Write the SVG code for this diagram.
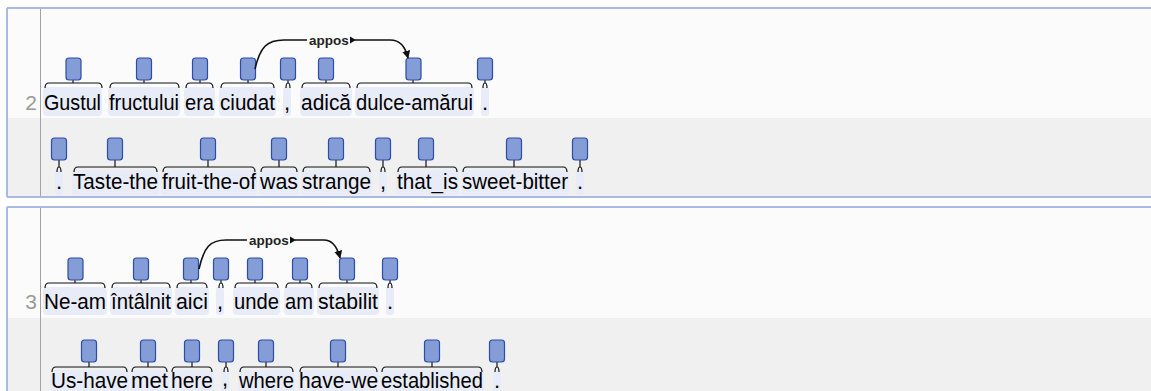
<svg xmlns="http://www.w3.org/2000/svg" width="1151" height="391" viewBox="0 0 1151 391">
<defs>
<style>
.wh{fill:#fbfbfb}
.band{fill:#eff0ef}
.bd{stroke:#a9b9e4;stroke-width:2;fill:none}
.vl{stroke:#a3a3a3;stroke-width:1}
.num{font-family:"Liberation Sans",Arial,sans-serif;font-size:21px;fill:#999;text-anchor:end}
.tb{fill:#e8ecf8}
.tx{font-family:"Liberation Sans",Arial,sans-serif;font-size:22px;fill:#000;text-anchor:middle}
.bx{fill:#849dd6;stroke:#2c4ca8;stroke-width:1.2}
.br{fill:none;stroke:#111;stroke-width:1.2}
.arc{fill:none;stroke:#111;stroke-width:1.6}
.lbl{font-family:"Liberation Sans",Arial,sans-serif;font-size:13.5px;font-weight:bold;fill:#222;text-anchor:middle}
</style>
<marker id="ah" viewBox="0 0 10 10" refX="9" refY="5" markerWidth="8" markerHeight="8" orient="auto" markerUnits="userSpaceOnUse">
<path d="M0,0 L10,5 L0,10 z" fill="#111"/>
</marker>
</defs>

<!-- frame -->
<g id="frame">
<rect class="wh" x="7" y="8" width="1144" height="110"/>
<rect class="band" x="7" y="118" width="1144" height="79"/>
<rect class="wh" x="7" y="207" width="1144" height="111"/>
<rect class="band" x="7" y="318" width="1144" height="73"/>
<line class="bd" x1="7" y1="8" x2="1151" y2="8"/>
<line class="bd" x1="7" y1="197" x2="1151" y2="197"/>
<line class="bd" x1="7" y1="207" x2="1151" y2="207"/>
<line class="bd" x1="7" y1="8" x2="7" y2="197"/>
<line class="bd" x1="7" y1="207" x2="7" y2="391"/>
<line class="vl" x1="40.5" y1="9" x2="40.5" y2="196"/>
<line class="vl" x1="40.5" y1="208" x2="40.5" y2="391"/>
<text class="num" x="37" y="110">2</text>
<text class="num" x="37" y="309">3</text>
</g>

<!-- sentence 2, row 1 -->
<g id="s2-Gustul"><rect class="tb" x="43" y="87" width="59" height="29" rx="4"/><path class="br" d="M45,88 Q45,83 49,83 L98,83 Q102,83 102,88 M73,80 L73,83"/><rect class="bx" x="66" y="58" width="15" height="22" rx="3"/><text class="tx" x="72.5" y="110" textLength="57" lengthAdjust="spacingAndGlyphs">Gustul</text></g>
<g id="s2-fructului"><rect class="tb" x="108" y="87" width="72" height="29" rx="4"/><path class="br" d="M110,88 Q110,83 114,83 L175,83 Q179,83 179,88 M144,80 L144,83"/><rect class="bx" x="136.5" y="58" width="15" height="22" rx="3"/><text class="tx" x="144" y="110" textLength="70" lengthAdjust="spacingAndGlyphs">fructului</text></g>
<g id="s2-era"><rect class="tb" x="184" y="87" width="31" height="29" rx="4"/><path class="br" d="M186,88 Q186,83 190,83 L209,83 Q213,83 213,88 M200,80 L200,83"/><rect class="bx" x="192.5" y="58" width="15" height="22" rx="3"/><text class="tx" x="199.5" y="110" textLength="29" lengthAdjust="spacingAndGlyphs">era</text></g>
<g id="s2-ciudat"><rect class="tb" x="219" y="87" width="57" height="29" rx="4"/><path class="br" d="M221,88 Q221,83 225,83 L270,83 Q274,83 274,88 M248,80 L248,83"/><rect class="bx" x="240.5" y="58" width="15" height="22" rx="3"/><text class="tx" x="247.5" y="110" textLength="55" lengthAdjust="spacingAndGlyphs">ciudat</text></g>
<g id="s2-comma"><rect class="tb" x="283" y="87" width="8" height="29" rx="3"/><path class="br" d="M286,88 Q286,83 288,83 Q290,83 290,88 M288,80 L288,83"/><rect class="bx" x="280.5" y="58" width="15" height="22" rx="3"/><text class="tx" x="287" y="110">,</text></g>
<g id="s2-adica"><rect class="tb" x="300" y="87" width="52" height="29" rx="4"/><path class="br" d="M302,88 Q302,83 306,83 L346,83 Q350,83 350,88 M326,80 L326,83"/><rect class="bx" x="318.5" y="58" width="15" height="22" rx="3"/><text class="tx" x="326" y="110" textLength="50" lengthAdjust="spacingAndGlyphs">adică</text></g>
<g id="s2-dulce-amarui"><rect class="tb" x="355" y="87" width="119" height="29" rx="4"/><path class="br" d="M357,88 Q357,83 361,83 L468,83 Q472,83 472,88 M413,80 L413,83"/><rect class="bx" x="406" y="58" width="15" height="22" rx="3"/><text class="tx" x="414.5" y="110" textLength="117" lengthAdjust="spacingAndGlyphs">dulce-amărui</text></g>
<g id="s2-period"><rect class="tb" x="481" y="87" width="8" height="29" rx="3"/><path class="br" d="M483,88 Q483,83 485,83 Q487,83 487,88 M485,80 L485,83"/><rect class="bx" x="477.5" y="58" width="15" height="22" rx="3"/><text class="tx" x="485" y="110">.</text></g>

<!-- sentence 2, gloss -->
<g id="g2-period0"><rect class="tb" x="55" y="170" width="8" height="25" rx="3"/><path class="br" d="M57,172 Q57,167 59,167 Q61,167 61,172 M59,160 L59,167"/><rect class="bx" x="51.5" y="138" width="15" height="22" rx="3"/><text class="tx" x="59" y="189">.</text></g>
<g id="g2-Taste-the"><rect class="tb" x="72" y="170" width="87" height="25" rx="4"/><path class="br" d="M74,172 Q74,167 78,167 L153,167 Q157,167 157,172 M115,160 L115,167"/><rect class="bx" x="107.5" y="138" width="15" height="22" rx="3"/><text class="tx" x="115.5" y="189" textLength="85" lengthAdjust="spacingAndGlyphs">Taste-the</text></g>
<g id="g2-fruit-the-of"><rect class="tb" x="161" y="170" width="96" height="25" rx="4"/><path class="br" d="M163,172 Q163,167 167,167 L251,167 Q255,167 255,172 M208,160 L208,167"/><rect class="bx" x="200.5" y="138" width="15" height="22" rx="3"/><text class="tx" x="209" y="189" textLength="94" lengthAdjust="spacingAndGlyphs">fruit-the-of</text></g>
<g id="g2-was"><rect class="tb" x="259" y="170" width="40" height="25" rx="4"/><path class="br" d="M261,172 Q261,167 265,167 L293,167 Q297,167 297,172 M279,160 L279,167"/><rect class="bx" x="271.5" y="138" width="15" height="22" rx="3"/><text class="tx" x="279" y="189" textLength="38" lengthAdjust="spacingAndGlyphs">was</text></g>
<g id="g2-strange"><rect class="tb" x="301" y="170" width="71" height="25" rx="4"/><path class="br" d="M303,172 Q303,167 307,167 L366,167 Q370,167 370,172 M336,160 L336,167"/><rect class="bx" x="328.5" y="138" width="15" height="22" rx="3"/><text class="tx" x="336.5" y="189" textLength="69" lengthAdjust="spacingAndGlyphs">strange</text></g>
<g id="g2-comma"><rect class="tb" x="379" y="170" width="8" height="25" rx="3"/><path class="br" d="M381,172 Q381,167 383,167 Q385,167 385,172 M383,160 L383,167"/><rect class="bx" x="375.5" y="138" width="15" height="22" rx="3"/><text class="tx" x="383" y="189">,</text></g>
<g id="g2-that_is"><rect class="tb" x="396" y="170" width="63" height="25" rx="4"/><path class="br" d="M398,172 Q398,167 402,167 L453,167 Q457,167 457,172 M426,160 L426,167"/><rect class="bx" x="418.5" y="138" width="15" height="22" rx="3"/><text class="tx" x="427.5" y="189" textLength="61" lengthAdjust="spacingAndGlyphs">that_is</text></g>
<g id="g2-sweet-bitter"><rect class="tb" x="461" y="170" width="108" height="25" rx="4"/><path class="br" d="M463,172 Q463,167 467,167 L563,167 Q567,167 567,172 M514,160 L514,167"/><rect class="bx" x="506.5" y="138" width="15" height="22" rx="3"/><text class="tx" x="515" y="189" textLength="106" lengthAdjust="spacingAndGlyphs">sweet-bitter</text></g>
<g id="g2-period"><rect class="tb" x="576" y="170" width="8" height="25" rx="3"/><path class="br" d="M578,172 Q578,167 580,167 Q582,167 582,172 M580,160 L580,167"/><rect class="bx" x="572.5" y="138" width="15" height="22" rx="3"/><text class="tx" x="580" y="189">.</text></g>

<!-- sentence 3, row 1 -->
<g id="s3-Ne-am"><rect class="tb" x="43" y="287" width="64" height="28" rx="4"/><path class="br" d="M45,288 Q45,283 49,283 L101,283 Q105,283 105,288 M75,280 L75,283"/><rect class="bx" x="68" y="258" width="15" height="22" rx="3"/><text class="tx" x="75" y="309" textLength="62" lengthAdjust="spacingAndGlyphs">Ne-am</text></g>
<g id="s3-intalnit"><rect class="tb" x="110" y="287" width="62" height="28" rx="4"/><path class="br" d="M112,288 Q112,283 116,283 L166,283 Q170,283 170,288 M141,280 L141,283"/><rect class="bx" x="133.5" y="258" width="15" height="22" rx="3"/><text class="tx" x="141" y="309" textLength="60" lengthAdjust="spacingAndGlyphs">întâlnit</text></g>
<g id="s3-aici"><rect class="tb" x="175" y="287" width="34" height="28" rx="4"/><path class="br" d="M177,288 Q177,283 181,283 L203,283 Q207,283 207,288 M191,280 L191,283"/><rect class="bx" x="183.5" y="258" width="15" height="22" rx="3"/><text class="tx" x="192" y="309" textLength="32" lengthAdjust="spacingAndGlyphs">aici</text></g>
<g id="s3-comma"><rect class="tb" x="216" y="287" width="8" height="28" rx="3"/><path class="br" d="M219,288 Q219,283 221,283 Q223,283 223,288 M221,280 L221,283"/><rect class="bx" x="213.5" y="258" width="15" height="22" rx="3"/><text class="tx" x="220" y="309">,</text></g>
<g id="s3-unde"><rect class="tb" x="233" y="287" width="47" height="28" rx="4"/><path class="br" d="M235,288 Q235,283 239,283 L274,283 Q278,283 278,288 M255,280 L255,283"/><rect class="bx" x="247.5" y="258" width="15" height="22" rx="3"/><text class="tx" x="256.5" y="309" textLength="45" lengthAdjust="spacingAndGlyphs">unde</text></g>
<g id="s3-am"><rect class="tb" x="284" y="287" width="30" height="28" rx="4"/><path class="br" d="M286,288 Q286,283 290,283 L308,283 Q312,283 312,288 M300,280 L300,283"/><rect class="bx" x="292.5" y="258" width="15" height="22" rx="3"/><text class="tx" x="299" y="309" textLength="28" lengthAdjust="spacingAndGlyphs">am</text></g>
<g id="s3-stabilit"><rect class="tb" x="317" y="287" width="62" height="28" rx="4"/><path class="br" d="M319,288 Q319,283 323,283 L373,283 Q377,283 377,288 M347,280 L347,283"/><rect class="bx" x="339.5" y="258" width="15" height="22" rx="3"/><text class="tx" x="348" y="309" textLength="60" lengthAdjust="spacingAndGlyphs">stabilit</text></g>
<g id="s3-period"><rect class="tb" x="386" y="287" width="8" height="28" rx="3"/><path class="br" d="M388,288 Q388,283 390,283 Q392,283 392,288 M390,280 L390,283"/><rect class="bx" x="382.5" y="258" width="15" height="22" rx="3"/><text class="tx" x="390" y="309">.</text></g>

<!-- sentence 3, gloss -->
<g id="g3-Us-have"><rect class="tb" x="50" y="370" width="79" height="25" rx="4"/><path class="br" d="M52,372 Q52,367 56,367 L123,367 Q127,367 127,372 M89,362 L89,367"/><rect class="bx" x="81.5" y="340" width="15" height="22" rx="3"/><text class="tx" x="89.5" y="387.5" textLength="77" lengthAdjust="spacingAndGlyphs">Us-have</text></g>
<g id="g3-met"><rect class="tb" x="130" y="370" width="39" height="25" rx="4"/><path class="br" d="M132,372 Q132,367 136,367 L163,367 Q167,367 167,372 M148,362 L148,367"/><rect class="bx" x="140.5" y="340" width="15" height="22" rx="3"/><text class="tx" x="149.5" y="387.5" textLength="37" lengthAdjust="spacingAndGlyphs">met</text></g>
<g id="g3-here"><rect class="tb" x="170" y="370" width="44" height="25" rx="4"/><path class="br" d="M172,372 Q172,367 176,367 L208,367 Q212,367 212,372 M192,362 L192,367"/><rect class="bx" x="184.5" y="340" width="15" height="22" rx="3"/><text class="tx" x="192" y="387.5" textLength="42" lengthAdjust="spacingAndGlyphs">here</text></g>
<g id="g3-comma"><rect class="tb" x="221" y="370" width="8" height="25" rx="3"/><path class="br" d="M224,372 Q224,367 226,367 Q228,367 228,372 M226,362 L226,367"/><rect class="bx" x="218.5" y="340" width="15" height="22" rx="3"/><text class="tx" x="225" y="386">,</text></g>
<g id="g3-where"><rect class="tb" x="238" y="370" width="57" height="25" rx="4"/><path class="br" d="M240,372 Q240,367 244,367 L289,367 Q293,367 293,372 M266,362 L266,367"/><rect class="bx" x="258.5" y="340" width="15" height="22" rx="3"/><text class="tx" x="266.5" y="387.5" textLength="55" lengthAdjust="spacingAndGlyphs">where</text></g>
<g id="g3-have-we"><rect class="tb" x="298" y="370" width="81" height="25" rx="4"/><path class="br" d="M300,372 Q300,367 304,367 L373,367 Q377,367 377,372 M338,362 L338,367"/><rect class="bx" x="330.5" y="340" width="15" height="22" rx="3"/><text class="tx" x="338.5" y="387.5" textLength="79" lengthAdjust="spacingAndGlyphs">have-we</text></g>
<g id="g3-established"><rect class="tb" x="380" y="370" width="104" height="25" rx="4"/><path class="br" d="M382,372 Q382,367 386,367 L478,367 Q482,367 482,372 M432,362 L432,367"/><rect class="bx" x="424.5" y="340" width="15" height="22" rx="3"/><text class="tx" x="432" y="387.5" textLength="102" lengthAdjust="spacingAndGlyphs">established</text></g>
<g id="g3-period"><rect class="tb" x="493" y="370" width="8" height="25" rx="3"/><path class="br" d="M495,372 Q495,367 497,367 Q499,367 499,372 M497,362 L497,367"/><rect class="bx" x="489.5" y="340" width="15" height="22" rx="3"/><text class="tx" x="497" y="387.5">.</text></g>

<!-- connectors -->
<g id="connectors">
<path class="arc" d="M255,69 C260,47 267,40 284,40 L307,40"/>
<text class="lbl" x="329" y="44.5">appos</text>
<path d="M350,36.5 L356,40 L350,43.5 z" fill="#111"/>
<path class="arc" d="M355,40 L390,40 C400,40 405,46 408,58" marker-end="url(#ah)"/>
<path class="arc" d="M199,269 C204,247 210,240 226,240 L247,240"/>
<text class="lbl" x="269" y="244.5">appos</text>
<path d="M290,236.5 L296,240 L290,243.5 z" fill="#111"/>
<path class="arc" d="M295,240 L324,240 C332,240 337,246 340,258" marker-end="url(#ah)"/>
</g>
</svg>
